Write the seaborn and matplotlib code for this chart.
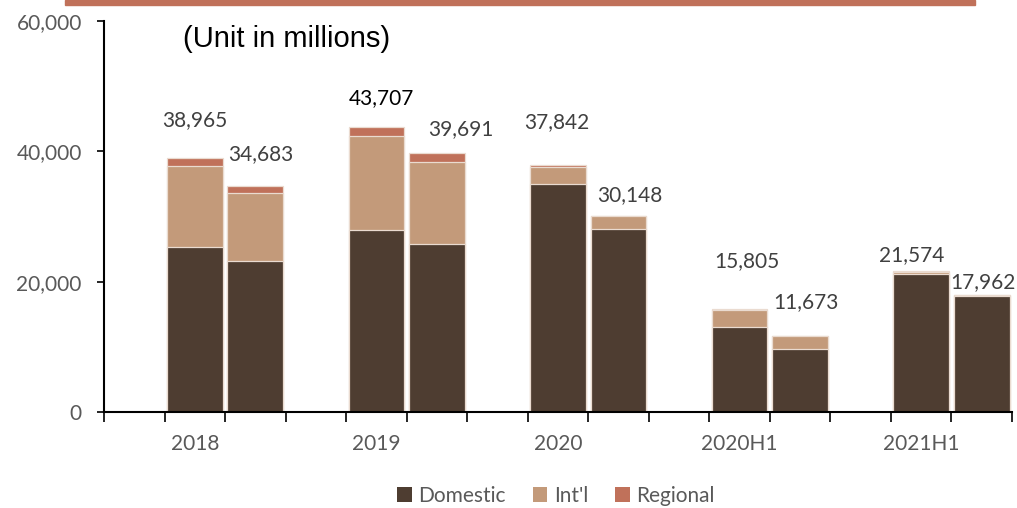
import matplotlib
matplotlib.use("Agg")
import matplotlib.pyplot as plt
from matplotlib.patches import Rectangle
import seaborn as sns
import numpy as np

# Passenger volumes, two bars per period (values in millions)
periods = ["2018", "2019", "2020", "2020H1", "2021H1"]
bar_ids = ["2018a", "2018b", "2019a", "2019b", "2020a", "2020b",
           "2020H1a", "2020H1b", "2021H1a", "2021H1b"]
domestic = [25330, 23190, 27890, 25750, 34990, 28100, 13030, 9710, 21250, 17730]
intl = [12370, 10373, 14407, 12671, 2662, 1948, 2675, 1903, 249, 182]
regional = [1265, 1120, 1410, 1270, 190, 100, 100, 60, 75, 50]
y_ticks = [0, 20000, 40000, 60000]

# label placement (pixels) relative to each bar's centre/top
label_dx = [0, 5, 5, 24, -1, 11, 7, 6, -10, 1]
label_dy = [38, 32, 29, 24, 43, 20, 48, 34, 16, 13]
label_colors = ["#404040", "#404040", "#000000", "#404040", "#404040",
                "#404040", "#404040", "#404040", "#404040", "#404040"]

C_DOM = "#4E3D31"
C_INT = "#C39A7A"
C_REG = "#C0715A"
EDGE = "#EADBD0"
GREY = "#595959"

sns.set_theme(style="white")
plt.rcParams["font.family"] = ["Lato", "DejaVu Sans"]

# slot layout: a blank slot ahead of each pair of bars
slots = []
for p, a, b in zip(periods, bar_ids[0::2], bar_ids[1::2]):
    slots += ["gap_" + p, a, b]

dom = np.array(domestic)
dom_int = dom + np.array(intl)
total = dom_int + np.array(regional)

fig = plt.figure(figsize=(10.17, 5.08), dpi=100)
ax = fig.add_axes([104 / 1017, 1 - 412 / 508, 908 / 1017, 391 / 508])

common = dict(order=slots, width=0.92, saturation=1, edgecolor=EDGE,
              linewidth=0.9, ax=ax)
sns.barplot(x=bar_ids, y=total, color=C_REG, label="Regional", **common)
sns.barplot(x=bar_ids, y=dom_int, color=C_INT, label="Int'l", **common)
sns.barplot(x=bar_ids, y=dom, color=C_DOM, label="Domestic", **common)

handles, labels = ax.get_legend_handles_labels()
if ax.get_legend() is not None:
    ax.get_legend().remove()

ax.set_xlim(-0.5, len(slots) - 0.5)
ax.set_ylim(0, 60000)
ax.set_xlabel("")
ax.set_ylabel("")

# value labels above each bar
for i, bid in enumerate(bar_ids):
    xpos = slots.index(bid)
    ax.annotate(f"{total[i]:,}", xy=(xpos, total[i]),
                xytext=(label_dx[i], label_dy[i]), textcoords="offset pixels",
                ha="center", va="center", fontsize=15, color=label_colors[i])

# y axis
ax.set_yticks(y_ticks)
ax.set_yticklabels([f"{v:,}" for v in y_ticks], fontsize=15, color=GREY)
ax.tick_params(axis="y", which="major", direction="out", length=5, width=1.2,
               color="black", left=True, pad=11)

# x axis: boundary ticks, group labels centred on each period
ax.set_xticks(np.arange(-0.5, len(slots), 1.0))
ax.set_xticklabels([])
ax.set_xticks(np.arange(1, len(slots), 3), minor=True)
ax.set_xticklabels(periods, minor=True, fontsize=15, color=GREY)
ax.tick_params(axis="x", which="major", direction="out", length=7, width=1.2,
               color="black", bottom=True)
ax.tick_params(axis="x", which="minor", length=0, pad=16)

for s in ["top", "right"]:
    ax.spines[s].set_visible(False)
for s in ["left", "bottom"]:
    ax.spines[s].set_color("black")
    ax.spines[s].set_linewidth(1.5)

ax.text(183 / 1017, 1 - 39 / 508, "(Unit in millions)", transform=fig.transFigure,
        fontsize=21, color="black", va="center", ha="left",
        family=["Liberation Sans", "DejaVu Sans"])

# legend in Domestic / Int'l / Regional order
order = [labels.index(n) for n in ["Domestic", "Int'l", "Regional"]]
leg_handles = [Rectangle((0, 0), 1, 1, facecolor=handles[k].patches[0].get_facecolor(),
                         edgecolor="none") for k in order]
fig.legend(leg_handles, [labels[k] for k in order],
           loc="center", bbox_to_anchor=(556 / 1017, 1 - 496 / 508),
           ncol=3, frameon=False, fontsize=15, handlelength=0.7,
           handleheight=0.7, handletextpad=0.3, columnspacing=1.3,
           labelcolor=GREY)

# accent bar across the top
fig.patches.append(Rectangle((65 / 1017, 1 - 5 / 508), 910 / 1017, 5 / 508,
                             transform=fig.transFigure, color=C_REG, zorder=5))

fig.savefig("out.png", dpi=100)
